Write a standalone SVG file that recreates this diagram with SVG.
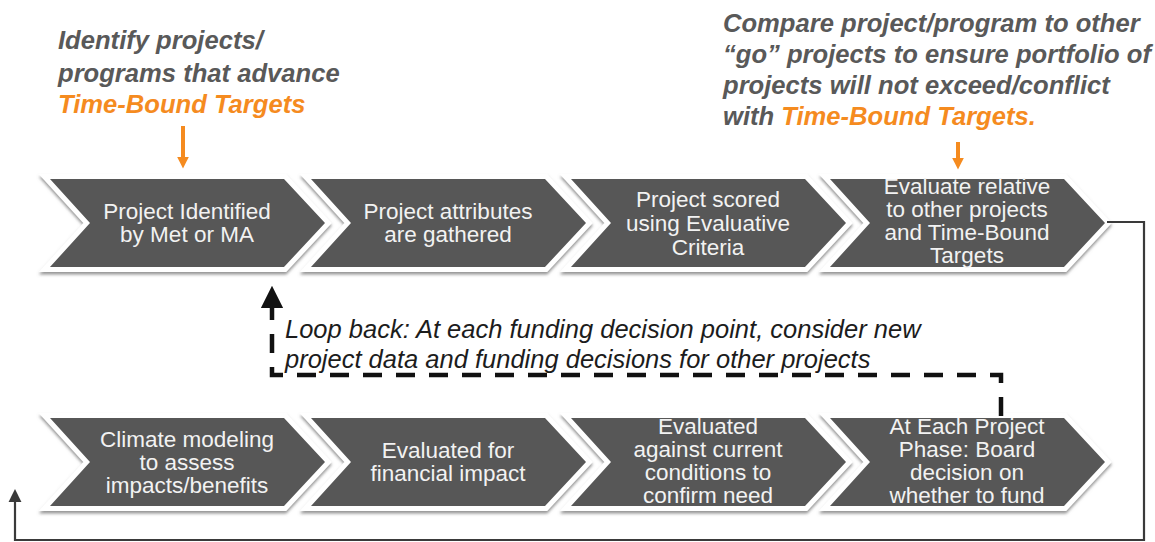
<svg xmlns="http://www.w3.org/2000/svg" xmlns:xlink="http://www.w3.org/1999/xlink" width="1155" height="542" viewBox="0 0 1155 542">
<style>
.halo{fill:#ffffff;stroke:#ffffff;stroke-width:10;stroke-linejoin:miter;filter:url(#sh)}
.body{fill:#575757}
.lbl{font-family:"Liberation Sans",Arial,sans-serif;font-size:22.5px;fill:#f2f2f2;text-anchor:middle}
.note{font-family:"Liberation Sans",Arial,sans-serif;font-size:25.6px;font-weight:bold;font-style:italic;fill:#595959}
.org{fill:#f58b1f}
.loop{font-family:"Liberation Sans",Arial,sans-serif;font-size:25.5px;font-style:italic;fill:#1c1c1c}
.oarr{stroke:#f58b1f;stroke-width:4;fill:none}
.solid{stroke:#3a3a3a;stroke-width:2.2;fill:none}
.dash{stroke:#111111;stroke-width:4.5;fill:none;stroke-dasharray:19 14}
</style>
<defs>
<filter id="sh" x="-10%" y="-20%" width="120%" height="150%">
<feDropShadow dx="0" dy="2.5" stdDeviation="1.8" flood-color="#7a7a7a" flood-opacity="0.8"/>
</filter>
<path id="chev" d="M0,0 H234 L275,44 L234,88 H0 L40,44 Z"/>
<marker id="oa" viewBox="0 0 10 10" refX="2" refY="5" markerWidth="3" markerHeight="3" orient="auto" markerUnits="strokeWidth">
<path d="M0,0 L10,5 L0,10 Z" fill="#f58b1f"/>
</marker>
<marker id="ba" viewBox="0 0 10 10" refX="1" refY="5" markerWidth="5" markerHeight="5" orient="auto" markerUnits="strokeWidth">
<path d="M0,0 L10,5 L0,10 Z" fill="#111111"/>
</marker>
<marker id="sa" viewBox="0 0 10 10" refX="1" refY="5" markerWidth="6" markerHeight="6" orient="auto" markerUnits="strokeWidth">
<path d="M0,0 L10,5 L0,10 Z" fill="#3a3a3a"/>
</marker>
</defs>
<rect width="1155" height="542" fill="#ffffff"/>

<g id="note-identify">
<text class="note" x="58" y="49">Identify projects/</text>
<text class="note" x="58" y="81.5">programs that advance</text>
<text class="note org" x="58" y="113">Time-Bound Targets</text>
</g>
<g id="note-compare">
<text class="note" x="723" y="32">Compare project/program to other</text>
<text class="note" x="723" y="63">“go” projects to ensure portfolio of</text>
<text class="note" x="723" y="94">projects will not exceed/conflict</text>
<text class="note" x="723" y="125">with <tspan class="org">Time-Bound Targets.</tspan></text>
</g>
<g id="note-loop">
<text class="loop" x="285" y="338">Loop back: At each funding decision point, consider new</text>
<text class="loop" x="285" y="368">project data and funding decisions for other projects</text>
</g>

<g id="n1">
<use xlink:href="#chev" class="halo" x="50" y="179"/>
<use xlink:href="#chev" class="body" x="50" y="179"/>
<text class="lbl" x="187" y="219">Project Identified</text>
<text class="lbl" x="187" y="242">by Met or MA</text>
</g>
<g id="n2">
<use xlink:href="#chev" class="halo" x="311" y="179"/>
<use xlink:href="#chev" class="body" x="311" y="179"/>
<text class="lbl" x="448" y="219">Project attributes</text>
<text class="lbl" x="448" y="242">are gathered</text>
</g>
<g id="n3">
<use xlink:href="#chev" class="halo" x="571" y="179"/>
<use xlink:href="#chev" class="body" x="571" y="179"/>
<text class="lbl" x="708" y="207">Project scored</text>
<text class="lbl" x="708" y="231">using Evaluative</text>
<text class="lbl" x="708" y="255">Criteria</text>
</g>
<g id="n4">
<use xlink:href="#chev" class="halo" x="830" y="179"/>
<use xlink:href="#chev" class="body" x="830" y="179"/>
<text class="lbl" x="967" y="194">Evaluate relative</text>
<text class="lbl" x="967" y="217">to other projects</text>
<text class="lbl" x="967" y="240">and Time-Bound</text>
<text class="lbl" x="967" y="263">Targets</text>
</g>
<g id="n5">
<use xlink:href="#chev" class="halo" x="50" y="418"/>
<use xlink:href="#chev" class="body" x="50" y="418"/>
<text class="lbl" x="187" y="447">Climate modeling</text>
<text class="lbl" x="187" y="470">to assess</text>
<text class="lbl" x="187" y="493">impacts/benefits</text>
</g>
<g id="n6">
<use xlink:href="#chev" class="halo" x="311" y="418"/>
<use xlink:href="#chev" class="body" x="311" y="418"/>
<text class="lbl" x="448" y="458">Evaluated for</text>
<text class="lbl" x="448" y="481">financial impact</text>
</g>
<g id="n7">
<use xlink:href="#chev" class="halo" x="571" y="418"/>
<use xlink:href="#chev" class="body" x="571" y="418"/>
<text class="lbl" x="708" y="434">Evaluated</text>
<text class="lbl" x="708" y="457">against current</text>
<text class="lbl" x="708" y="480">conditions to</text>
<text class="lbl" x="708" y="503">confirm need</text>
</g>
<g id="n8">
<use xlink:href="#chev" class="halo" x="830" y="418"/>
<use xlink:href="#chev" class="body" x="830" y="418"/>
<text class="lbl" x="967" y="434">At Each Project</text>
<text class="lbl" x="967" y="457">Phase: Board</text>
<text class="lbl" x="967" y="480">decision on</text>
<text class="lbl" x="967" y="503">whether to fund</text>
</g>

<g id="connectors">
<path class="oarr" d="M183,126 V159" marker-end="url(#oa)"/>
<path class="oarr" d="M958,142 V160" marker-end="url(#oa)"/>
<path class="dash" d="M1001,416 V375 H272 V306" marker-end="url(#ba)"/>
<path class="solid" d="M1107,222 H1144 V540 H15 V501" marker-end="url(#sa)"/>
</g>
</svg>
